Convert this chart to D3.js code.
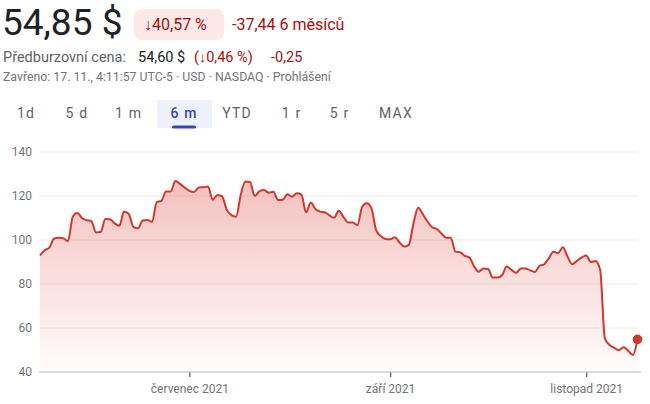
<!DOCTYPE html>
<html>
<head>
<meta charset="utf-8">
<script src="https://cdn.jsdelivr.net/npm/d3@7"></script>
<style>
  html, body { margin: 0; padding: 0; background: #fff; }
  svg { display: block; font-family: Roboto, "Noto Sans", Arial, sans-serif; }
</style>
</head>
<body>
<svg id="chart" width="650" height="404"></svg>
<script>
// ---- data ----
const values = [
  93, 95.3, 96.5, 100.6, 101, 100.8, 99.5, 110.5, 112.3, 110,
  109, 108.6, 103.4, 103.6, 109.5, 109.4, 107.5, 106.5, 112.9, 111.8,
  106, 105.3, 108.9, 109.1, 108.2, 117.2, 117.8, 122, 122, 126.8,
  125.5, 123.8, 122.3, 121.8, 123.9, 124, 124.3, 118.3, 120.5, 119.8,
  113.8, 111.3, 110.6, 120.5, 126.6, 126.4, 120, 122.1, 122.7, 121.5,
  121.9, 118.2, 118.3, 120.8, 119.7, 121.2, 120.6, 112.6, 117, 114.1,
  112.9, 112.6, 111.2, 110.1, 113.3, 110.5, 108, 108, 106.8, 115,
  116.7, 114.5, 104.5, 101.8, 100.5, 100.3, 101.2, 99, 97, 97.8,
  107.5, 114.7, 111.8, 108.4, 105.8, 105, 103, 101, 101, 94.7,
  94.4, 92.8, 92, 88, 85.6, 87.1, 86.8, 82.9, 82.9, 84.1,
  87.9, 86.4, 85.1, 87.1, 87.1, 86.2, 85.5, 88.2, 89, 91.7,
  94.7, 94, 96.7, 92.5, 89, 90.5, 92, 92.9, 90, 90.5,
  86.5, 55.3, 52.3, 51, 50, 51.2, 49.7, 47.7, 54.85
];
const xTickIndex = [32, 75, 117];
const xTickLabels = ["červenec 2021", "září 2021", "listopad 2021"];
const yTicks = [40, 60, 80, 100, 120, 140];
const tabs = ["1d", "5 d", "1 m", "6 m", "YTD", "1 r", "5 r", "MAX"];
const selectedTab = "6 m";

const price = "54,85 $";
const changePct = "↓40,57 %";
const changeAbs = "-37,44 6 měsíců";
const preLabel = "Předburzovní cena:";
const prePrice = "54,60 $";
const prePct = "(↓0,46 %)";
const preAbs = "-0,25";
const closedInfo = "Zavřeno: 17. 11., 4:11:57 UTC-5 · USD · NASDAQ · Prohlášení";

// ---- drawing ----
const svg = d3.select("#chart");
const RED = "#a50e0e";
const LINE = "#d2372c";

// header
svg.append("text").attr("x", 2).attr("y", 35)
  .attr("font-size", 37).attr("fill", "#202124").text(price);

svg.append("rect").attr("x", 134).attr("y", 9).attr("width", 90).attr("height", 31)
  .attr("rx", 8).attr("fill", "#fce8e6");
svg.append("text").attr("x", 144).attr("y", 30)
  .attr("font-size", 16).attr("fill", RED).text(changePct);
svg.append("text").attr("x", 232).attr("y", 30)
  .attr("font-size", 16).attr("fill", RED).text(changeAbs);

const l2 = svg.append("text").attr("x", 3).attr("y", 62).attr("font-size", 14.5);
l2.append("tspan").attr("fill", "#5f6368").text(preLabel);
l2.append("tspan").attr("x", 138).attr("fill", "#202124").text(prePrice);
l2.append("tspan").attr("x", 194).attr("fill", RED).text(prePct);
l2.append("tspan").attr("x", 271).attr("fill", RED).text(preAbs);

svg.append("text").attr("x", 3).attr("y", 81)
  .attr("font-size", 12.3).attr("fill", "#70757a").text(closedInfo);

// tabs
const tabCenters = [26, 77, 128.5, 184, 237, 291.5, 339.5, 396];
const tabScale = d3.scaleOrdinal().domain(tabs).range(tabCenters);
svg.append("rect").attr("x", 157).attr("y", 100).attr("width", 55).attr("height", 28)
  .attr("fill", "#eef0fb");
svg.append("rect").attr("x", 172).attr("y", 125.5).attr("width", 24).attr("height", 3)
  .attr("rx", 1.5).attr("fill", "#3949ab");
svg.append("g").selectAll("text").data(tabs).join("text")
  .attr("x", d => tabScale(d)).attr("y", 118)
  .attr("text-anchor", "middle").attr("font-size", 14).attr("letter-spacing", 1.2)
  .attr("fill", d => d === selectedTab ? "#3949ab" : "#5f6368")
  .attr("font-weight", d => d === selectedTab ? 500 : 400)
  .text(d => d);

// chart
const x = d3.scaleLinear().domain([0, values.length - 1]).range([40, 637.5]);
const y = d3.scaleLinear().domain([40, 140]).range([372, 152]);

const defs = svg.append("defs");
const grad = defs.append("linearGradient").attr("id", "fillGrad")
  .attr("gradientUnits", "userSpaceOnUse")
  .attr("x1", 0).attr("x2", 0).attr("y1", y(d3.max(values))).attr("y2", y(40));
grad.append("stop").attr("offset", 0).attr("stop-color", "#d93025").attr("stop-opacity", 0.3);
grad.append("stop").attr("offset", 1).attr("stop-color", "#d93025").attr("stop-opacity", 0.01);

// grid
svg.append("g").selectAll("line").data(yTicks.filter(t => t > 40)).join("line")
  .attr("x1", 39).attr("x2", 638).attr("y1", d => y(d)).attr("y2", d => y(d))
  .attr("stroke", "#ebebeb").attr("stroke-width", 1);

// y labels
svg.append("g").selectAll("text").data(yTicks).join("text")
  .attr("x", 32).attr("y", d => y(d)).attr("dy", "0.35em")
  .attr("text-anchor", "end").attr("font-size", 12).attr("fill", "#70757a")
  .text(d => d);

// area + line
const area = d3.area().x((d, i) => x(i)).y0(y(40)).y1(d => y(d)).curve(d3.curveMonotoneX);
const line = d3.line().x((d, i) => x(i)).y(d => y(d)).curve(d3.curveMonotoneX);
svg.append("path").datum(values).attr("d", area).attr("fill", "url(#fillGrad)");
svg.append("path").datum(values).attr("d", line)
  .attr("fill", "none").attr("stroke", LINE).attr("stroke-width", 2).attr("stroke-linejoin", "round");

// x axis
const xAxis = d3.axisBottom(x).tickValues(xTickIndex)
  .tickFormat((d, i) => xTickLabels[i]).tickSize(5).tickPadding(7);
const gx = svg.append("g").attr("transform", `translate(0,${y(40)})`).call(xAxis);
gx.select(".domain").remove();
gx.selectAll(".tick line").attr("stroke", "#5f6368").attr("stroke-width", 1.3);
gx.selectAll(".tick text").attr("font-size", 12).attr("fill", "#70757a")
  .attr("font-family", "Roboto, Arial, sans-serif");
svg.append("line").attr("x1", 39).attr("x2", 641).attr("y1", y(40)).attr("y2", y(40))
  .attr("stroke", "#b4b8bc").attr("stroke-width", 1.2);

// end dot
const last = values.length - 1;
svg.append("circle").attr("cx", x(last)).attr("cy", y(values[last])).attr("r", 4.8)
  .attr("fill", LINE);
</script>
</body>
</html>
